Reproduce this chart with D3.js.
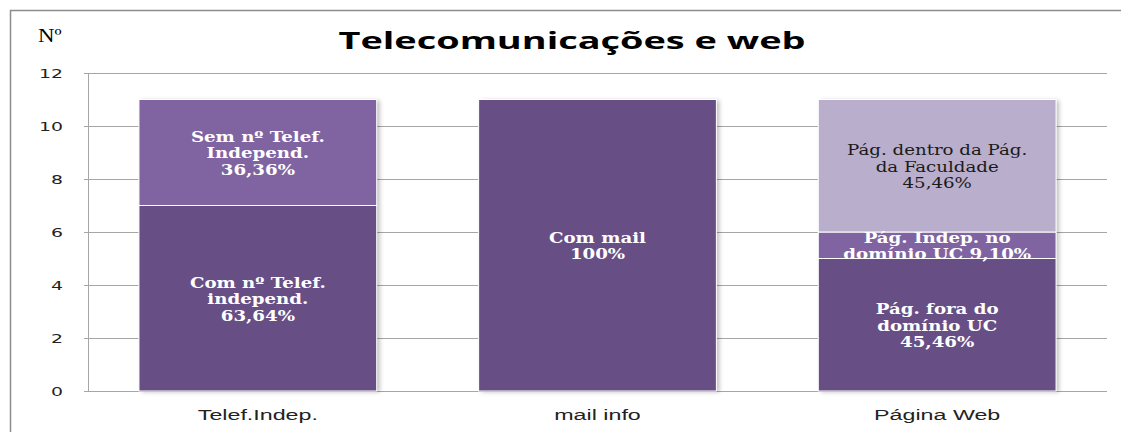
<!DOCTYPE html>
<html><head><meta charset="utf-8">
<script src="https://cdn.jsdelivr.net/npm/d3@7"></script>
<style>body{margin:0;background:#fff}svg{display:block}</style>
</head><body><div id="chart"></div>
<script>
const categories = ["Telef.Indep.", "mail info", "Página Web"];
const segValues = [[7, 4], [11], [5, 1, 5]];
const segLabels = [
  [["Com nº Telef.", "independ.", "63,64%"], ["Sem nº Telef.", "Independ.", "36,36%"]],
  [["Com mail", "100%"]],
  [["Pág. fora do", "domínio UC", "45,46%"], ["Pág. Indep. no", "domínio UC 9,10%"], ["Pág. dentro da Pág.", "da Faculdade", "45,46%"]]
];
const segColors = [["#674F86", "#8064A2"], ["#674F86"], ["#674F86", "#8064A2", "#B9AECB"]];
const segTextColors = [["#fff", "#fff"], ["#fff"], ["#fff", "#fff", "#1a1a1a"]];
const yTicks = [0, 2, 4, 6, 8, 10, 12];
const title = "Telecomunicações e web";
const yTitle = "Nº";

(function () {
const W = 1121, H = 432;
const svg = d3.select("#chart").append("svg").attr("width", W).attr("height", H);
const defs = svg.append("defs");
const f = defs.append("filter").attr("id", "sh").attr("x", "-10%").attr("y", "-10%").attr("width", "130%").attr("height", "130%");
f.append("feDropShadow").attr("dx", 3).attr("dy", 1).attr("stdDeviation", 2).attr("flood-color", "#000").attr("flood-opacity", 0.25);

svg.append("rect").attr("x", 10.5).attr("y", 10.5).attr("width", 1130).attr("height", 440)
  .attr("fill", "#fff").attr("stroke", "#8c8c8c").attr("stroke-width", 1.5);

const pL = 88, pR = 1107, pT = 73, pB = 391;
const x = d3.scaleBand().domain(categories).range([pL, pR]).paddingInner(0.3).paddingOuter(0.15);
const y = d3.scaleLinear().domain([0, 12]).range([pB, pT]);

svg.append("g").selectAll("line").data(yTicks).join("line")
  .attr("x1", pL - 4).attr("x2", pR).attr("y1", d => Math.round(y(d)) + 0.5).attr("y2", d => Math.round(y(d)) + 0.5)
  .attr("stroke", "#a6a6a6").attr("stroke-width", 1);
svg.append("line").attr("x1", pL + 0.5).attr("x2", pL + 0.5).attr("y1", y(12)).attr("y2", y(0))
  .attr("stroke", "#a6a6a6");

function stext(parent, px, py, sx) {
  return parent.append("g").attr("transform", `translate(${px},${py}) scale(${sx},1)`).append("text");
}

yTicks.forEach(d => {
  stext(svg, 63, y(d) + 5, 1.45).attr("text-anchor", "end")
    .attr("font-family", "DejaVu Sans, Verdana, sans-serif").attr("font-size", 13).attr("fill", "#222")
    .text(d);
});

categories.forEach((c, i) => {
  const g = svg.append("g");
  let cum = 0;
  const segs = segValues[i].map((v, j) => { const s = {v, y0: cum, y1: cum + v, j}; cum += v; return s; });
  g.append("rect").attr("x", x(c)).attr("width", x.bandwidth()).attr("y", y(cum)).attr("height", y(0) - y(cum))
    .attr("fill", "#fff").attr("filter", "url(#sh)");
  g.selectAll("rect.seg").data(segs).join("rect").attr("class", "seg")
    .attr("x", x(c)).attr("width", x.bandwidth())
    .attr("y", d => y(d.y1)).attr("height", d => y(d.y0) - y(d.y1))
    .attr("fill", d => segColors[i][d.j]).attr("stroke", "#fff").attr("stroke-width", 1);
  segs.forEach(s => {
    const lines = segLabels[i][s.j];
    const cy = (y(s.y0) + y(s.y1)) / 2;
    const lh = 16.5;
    const startY = cy - (lines.length - 1) * lh / 2 + 6;
    const dark = segTextColors[i][s.j] !== "#fff";
    const t = stext(g, x(c) + x.bandwidth() / 2, 0, 1.3).attr("text-anchor", "middle")
      .attr("font-family", "DejaVu Serif, Liberation Serif, serif").attr("font-weight", dark ? "normal" : "bold")
      .attr("font-size", 14).attr("fill", segTextColors[i][s.j]);
    lines.forEach((ln, k) => t.append("tspan").attr("x", 0).attr("y", startY + k * lh).text(ln));
  });
});

categories.forEach(c => {
  stext(svg, x(c) + x.bandwidth() / 2, 420, 1.55).attr("text-anchor", "middle")
    .attr("font-family", "Liberation Sans Narrow, Arial Narrow, sans-serif").attr("font-size", 15).attr("fill", "#222")
    .text(c);
});

svg.append("text").attr("x", 572).attr("y", 49).attr("text-anchor", "middle")
  .attr("font-family", "Open Sans, DejaVu Sans, sans-serif").attr("font-weight", "bold").attr("font-size", 24)
  .attr("textLength", 467).attr("lengthAdjust", "spacingAndGlyphs")
  .attr("fill", "#000").text(title);

stext(svg, 38, 42, 1.2)
  .attr("font-family", "Liberation Serif, Times New Roman, serif").attr("font-size", 19).attr("fill", "#000").text(yTitle);
})();
</script></body></html>
